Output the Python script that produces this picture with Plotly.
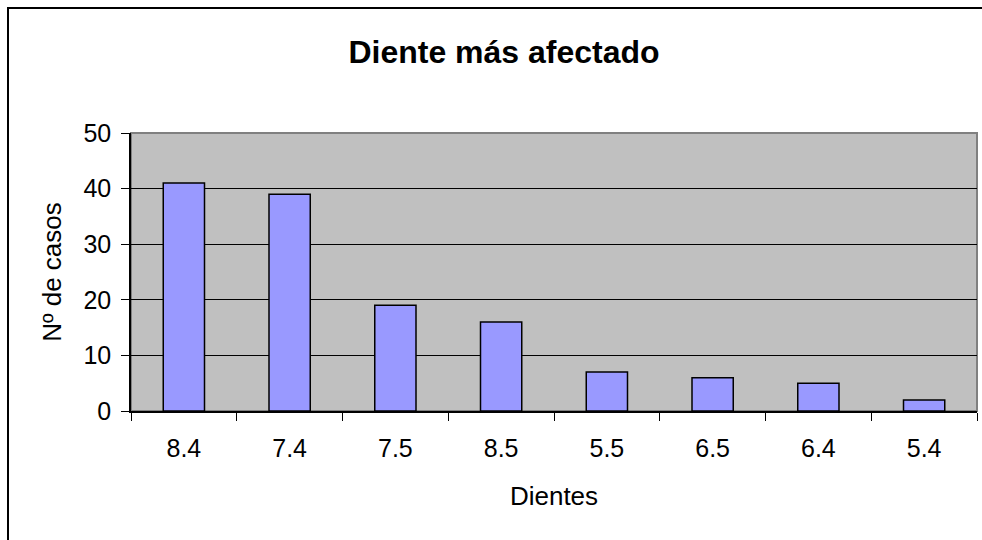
import plotly.graph_objects as go

categories = ["8.4", "7.4", "7.5", "8.5", "5.5", "6.5", "6.4", "5.4"]
values = [41, 39, 19, 16, 7, 6, 5, 2]
y_ticks = [0, 10, 20, 30, 40, 50]

W, H = 982, 540
L, R, T, B = 131, 5, 133, 129
pw = W - L - R
ph = H - T - B

def px(x):
    return (x - L) / pw

def py(y):
    return (H - B - y) / ph

fig = go.Figure()
fig.add_trace(go.Bar(
    x=categories, y=values,
    marker=dict(color="#9999FF", line=dict(color="black", width=1.5)),
))

fig.update_layout(
    width=W, height=H,
    margin=dict(l=L, r=R, t=T, b=B),
    paper_bgcolor="white",
    plot_bgcolor="#C0C0C0",
    bargap=0.61,
    showlegend=False,
    font=dict(family="Liberation Sans, Arial, sans-serif", color="black"),
    title=dict(
        text="<b>Diente más afectado</b>",
        font=dict(size=32, color="black"),
        x=504 / W, xanchor="center", xref="container",
        y=1 - 52 / H, yanchor="middle", yref="container",
    ),
    xaxis=dict(
        type="category",
        showgrid=False,
        showline=True, linecolor="black", linewidth=1.5,
        ticks="outside", tickson="boundaries", ticklen=8, tickcolor="black", tickwidth=1,
        tickfont=dict(size=25), ticklabelstandoff=14,
        title=dict(text="Dientes", font=dict(size=26), standoff=26),
    ),
    yaxis=dict(
        range=[0, 50],
        tickvals=y_ticks,
        showgrid=True, gridcolor="black", gridwidth=1,
        showline=True, linecolor="black", linewidth=1.5,
        ticks="outside", ticklen=8, tickcolor="black", tickwidth=1,
        tickfont=dict(size=25), ticklabelstandoff=5,
        zeroline=False,
        title=dict(text="Nº de casos", font=dict(size=26), standoff=14),
    ),
    shapes=[
        dict(type="rect", xref="paper", yref="paper",
             x0=0, y0=0, x1=1, y1=1,
             line=dict(color="#808080", width=2), fillcolor="rgba(0,0,0,0)", layer="below"),
        dict(type="rect", xref="paper", yref="paper",
             x0=px(8), y0=py(560), x1=px(1010), y1=py(8),
             line=dict(color="black", width=2), fillcolor="rgba(0,0,0,0)", layer="below"),
    ],
)

fig.write_html("out.html")
